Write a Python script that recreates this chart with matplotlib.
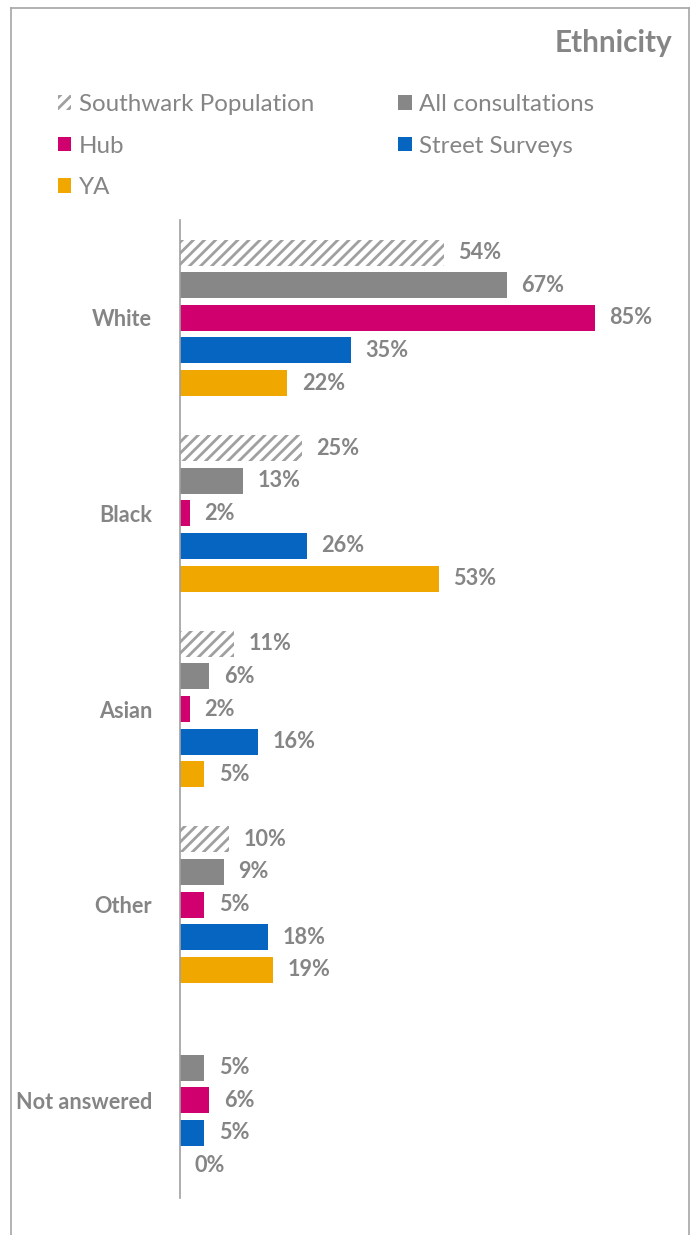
import matplotlib
matplotlib.use("Agg")
import matplotlib.pyplot as plt
import numpy as np
from matplotlib.lines import Line2D

categories = ["White", "Black", "Asian", "Other", "Not answered"]
series_names = ["Southwark Population", "All consultations", "Hub", "Street Surveys", "YA"]
southwark = [54, 25, 11, 10, np.nan]
all_consult = [67, 13, 6, 9, 5]
hub = [85, 2, 2, 5, 6]
street = [35, 26, 16, 18, 5]
ya = [22, 53, 5, 19, 0]

colors = ["white", "#878787", "#d1006f", "#0565c0", "#f0a800"]
text_gray = "#858585"
FONT = "Lato"

plt.rcParams["font.family"] = [FONT, "DejaVu Sans"]
plt.rcParams["hatch.linewidth"] = 2.0

W, H = 697, 1235
fig = plt.figure(figsize=(W / 100, H / 100), dpi=100)

ax = fig.add_axes([180 / W, 37 / H, 488 / W, 978 / H])
y = np.arange(len(categories))
pitch = 1 / 6
bar_h = 26 / 196
data = [southwark, all_consult, hub, street, ya]
handles = []
for k, (vals, name, col) in enumerate(zip(data, series_names, colors)):
    pos = y + (k - 2) * pitch
    if k == 0:
        bars = ax.barh(pos, vals, height=bar_h, color="white", edgecolor="#a0a0a0",
                       linewidth=0, hatch="///", label=name)
    else:
        bars = ax.barh(pos, vals, height=bar_h, color=col, linewidth=0, label=name)
    labels = ["" if np.isnan(v) else f"{v:.0f}%" for v in vals]
    ax.bar_label(bars, labels=labels, padding=10.5, color=text_gray,
                 fontsize=15.6, fontweight="bold")
    handles.append(bars)

ax.set_xlim(0, 100)
ax.set_ylim(len(categories) - 0.5, -0.5)
ax.set_yticks(y)
ax.set_yticklabels(categories, fontsize=15.6, fontweight="bold", color=text_gray)
ax.tick_params(axis="y", length=0, pad=20)
ax.set_xticks([])
for s in ["top", "right", "bottom"]:
    ax.spines[s].set_visible(False)
ax.spines["left"].set_color("#a0a0a0")
ax.spines["left"].set_linewidth(1.2)

# frame around the chart
fr = dict(color="#a6a6a6", linewidth=1.2, transform=fig.transFigure)
fig.add_artist(Line2D([10.5 / W, 10.5 / W], [0, 1 - 7.5 / H], **fr))
fig.add_artist(Line2D([688.5 / W, 688.5 / W], [0, 1 - 7.5 / H], **fr))
fig.add_artist(Line2D([10.5 / W, 688.5 / W], [1 - 7.5 / H, 1 - 7.5 / H], **fr))

fig.text(672 / W, 1 - 43 / H, "Ethnicity", ha="right", va="center",
         fontsize=21.4, fontweight="bold", color=text_gray)

order = [0, 2, 4, 1, 3]
leg = fig.legend([handles[i] for i in order], [series_names[i] for i in order],
                 loc="upper left", bbox_to_anchor=(58 / W, 1 - 94 / H), ncol=2,
                 frameon=False, fontsize=17.4, labelcolor=text_gray,
                 handlelength=0.55, handleheight=0.55, handletextpad=0.3,
                 labelspacing=0.85, columnspacing=3.5, borderpad=0, borderaxespad=0)

fig.savefig("out.png", dpi=100)
